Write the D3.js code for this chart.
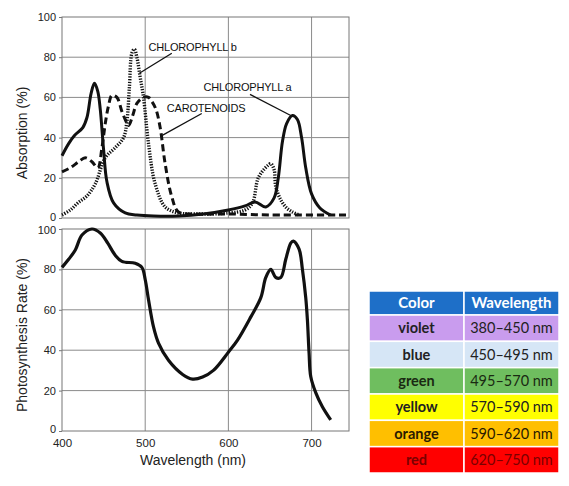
<!DOCTYPE html>
<html lang="en-US">
<head>
<meta charset="utf-8">
<style>
  body { margin: 0; background: #fff; }
  text { font-family: "Liberation Sans", Arial, sans-serif; }
  .tbl text { font-family: Lato, "Open Sans", sans-serif; }
</style>
</head>
<body>
<div id="chart"></div>
<script src="https://cdnjs.cloudflare.com/ajax/libs/d3/7.8.5/d3.min.js"></script>
<script>
var WIDTH = 569;
var HEIGHT = 486;

// absorption spectra (wavelength nm, absorption %)
var chlA = [[400,31],[408,37],[415,41],[425,45],[430,50],[435,62],[439,67],[443,63],[446,54],[450,34],[454,18],[462,7.5],[476,2.5],[490,1.5],[510,1],[540,1],[570,2],[600,4],[620,6],[632,8],[645,5.5],[655,10],[660,20],[665,38],[670,47],[677,51],[683,49],[688,40],[693,25],[700,12],[710,5],[723,1.5]];
var chlB = [[400,1.5],[410,4],[419,7.5],[430,11],[440,17],[452,30],[464,35],[474,40],[478,48],[481,65],[484,82],[487,84],[490,80],[494,70],[498,60],[504,37],[512,17],[524,5.5],[540,2.5],[560,2],[600,2.5],[620,4],[629,7.5],[636,20],[647,26],[651,27],[655,24],[657,15.5],[663,9],[670,5],[677,3],[685,1.5]];
var carot = [[400,23],[410,25],[420,28],[428,30],[436,28],[443,25],[448,35],[452,47],[456,56],[460,61],[466,60],[472,53],[476,49],[480,46],[485,51],[490,57],[498,60],[504,60],[508,58],[513,54],[518,45],[524,27],[532,10.5],[540,3],[560,2],[600,2],[650,1.5],[745,1.5]];
// action spectrum
var photo = [[400,81],[408,85],[416,89.6],[424,97],[436,100],[446,98],[455,93],[464,87],[472,84],[488,83],[496,81],[500,75],[504,65],[510,51.5],[516,43.5],[528,35],[545,28],[557,25.7],[569,26.7],[582,30],[600,39],[611,45],[627,56.5],[639,66],[645,76],[651,80],[657,76],[663,76],[669,85],[675,93],[678,94],[685,90],[689,80],[693,66],[695,55],[697,38.6],[699,27],[705,19],[713,12],[723,5.5]];

var xTicks = [400, 500, 600, 700];
var yTicks = [0, 20, 40, 60, 80, 100];

// curve labels: text anchor + leader line, in data units
var labels = [
  { text: "CHLOROPHYLL b", x: 504, y: 83, from: [532, 82], to: [493, 72] },
  { text: "CHLOROPHYLL a", x: 570, y: 63, from: [626, 61.5], to: [675, 51] },
  { text: "CAROTENOIDS", x: 526, y: 52.5, from: [568, 52], to: [520, 41] }
];

// wavelength table
var colorNames = ["violet", "blue", "green", "yellow", "orange", "red"];
var ranges = ["380\u2013450 nm", "450\u2013495 nm", "495\u2013570 nm", "570\u2013590 nm", "590\u2013620 nm", "620\u2013750 nm"];
var rowFills = ["#c99cee", "#d6e6f6", "#6fbe5f", "#ffff00", "#ffbf00", "#ff0000"];
var rowText = ["#222", "#222", "#1a2a12", "#222", "#2a1a00", "#7a0000"];

var svg = d3.select("#chart").append("svg").attr("width", WIDTH).attr("height", HEIGHT);
svg.append("rect").attr("width", WIDTH).attr("height", HEIGHT).attr("fill", "#fff");

var x = d3.scaleLinear().domain([400, 745]).range([62, 349]);
var yTop = d3.scaleLinear().domain([0, 100]).range([218, 17]);
var yBot = d3.scaleLinear().domain([0, 100]).range([431, 229]);

function panel(y, nudge) {
  var g = svg.append("g");
  // grid
  g.selectAll(".vg").data(xTicks.slice(1)).join("line")
    .attr("x1", d => x(d)).attr("x2", d => x(d))
    .attr("y1", y(0)).attr("y2", y(100))
    .attr("stroke", "#8a8a8a").attr("stroke-width", 1);
  g.selectAll(".hg").data(yTicks.slice(1, -1)).join("line")
    .attr("x1", x(400)).attr("x2", x(745))
    .attr("y1", d => y(d)).attr("y2", d => y(d))
    .attr("stroke", "#8a8a8a").attr("stroke-width", 1);
  g.append("rect")
    .attr("x", x(400)).attr("y", y(100))
    .attr("width", x(745) - x(400)).attr("height", y(0) - y(100))
    .attr("fill", "none").attr("stroke", "#777").attr("stroke-width", 1);
  var ax = g.append("g").attr("transform", "translate(" + x(400) + ",0)")
    .call(d3.axisLeft(y).tickValues(yTicks).tickSize(3).tickPadding(3));
  ax.select(".domain").remove();
  ax.selectAll("line").attr("stroke", "#777");
  ax.selectAll("text").attr("font-size", 11).attr("fill", "#222")
    .attr("transform", d => "translate(0," + (nudge[d] || 0) + ")")
    .style("font-family", "'Liberation Sans', Arial, sans-serif");
  return g;
}

var gTop = panel(yTop, { 0: -1 });
var gBot = panel(yBot, { 100: 1, 0: -2 });

var lineTop = d3.line().x(d => x(d[0])).y(d => yTop(d[1])).curve(d3.curveCatmullRom.alpha(0.5));
var lineBot = d3.line().x(d => x(d[0])).y(d => yBot(d[1])).curve(d3.curveCatmullRom.alpha(0.5));

gTop.append("path").attr("d", lineTop(chlB)).attr("fill", "none")
  .attr("stroke", "#111").attr("stroke-width", 3.4).attr("stroke-dasharray", "1.3 1.4");
gTop.append("path").attr("d", lineTop(carot)).attr("fill", "none")
  .attr("stroke", "#111").attr("stroke-width", 3).attr("stroke-dasharray", "7 4");
gTop.append("path").attr("d", lineTop(chlA)).attr("fill", "none")
  .attr("stroke", "#111").attr("stroke-width", 3).attr("stroke-linejoin", "round");

gTop.selectAll(".lead").data(labels).join("line")
  .attr("x1", d => x(d.from[0])).attr("y1", d => yTop(d.from[1]))
  .attr("x2", d => x(d.to[0])).attr("y2", d => yTop(d.to[1]))
  .attr("stroke", "#111").attr("stroke-width", 1.3);
gTop.selectAll(".lbl").data(labels).join("text")
  .attr("x", d => x(d.x)).attr("y", d => yTop(d.y))
  .attr("font-size", 11).attr("letter-spacing", -0.2).attr("fill", "#111")
  .text(d => d.text);

gBot.append("path").attr("d", lineBot(photo)).attr("fill", "none")
  .attr("stroke", "#111").attr("stroke-width", 3.2).attr("stroke-linejoin", "round");

var xa = gBot.append("g").attr("transform", "translate(0," + yBot(0) + ")")
  .call(d3.axisBottom(x).tickValues(xTicks).tickSize(0).tickPadding(8));
xa.select(".domain").remove();
xa.selectAll("text").attr("font-size", 11.5).attr("fill", "#222")
  .style("font-family", "'Liberation Sans', Arial, sans-serif");

svg.append("text").attr("transform", "translate(27,133) rotate(-90)")
  .attr("text-anchor", "middle").attr("font-size", 14).attr("fill", "#222")
  .text("Absorption (%)");
svg.append("text").attr("transform", "translate(27,335) rotate(-90)")
  .attr("text-anchor", "middle").attr("font-size", 14).attr("fill", "#222")
  .text("Photosynthesis Rate (%)");
svg.append("text").attr("x", 193).attr("y", 465)
  .attr("text-anchor", "middle").attr("font-size", 14).attr("fill", "#222")
  .text("Wavelength (nm)");

// table
var tbl = svg.append("g").attr("class", "tbl");
var col = d3.scaleBand().domain(["Color", "Wavelength"]).range([369, 559]).paddingInner(0);
var row = d3.scaleBand().domain(d3.range(colorNames.length)).range([315, 473]);
var headH = 24;

tbl.selectAll(".hd").data(col.domain()).join("rect")
  .attr("x", d => col(d)).attr("y", 315 - headH)
  .attr("width", col.bandwidth()).attr("height", headH)
  .attr("fill", "#1e6fc8").attr("stroke", "#fff").attr("stroke-width", 1.5);
tbl.selectAll(".hdt").data(col.domain()).join("text")
  .attr("x", d => col(d) + col.bandwidth() / 2).attr("y", 315 - headH / 2 + 5)
  .attr("text-anchor", "middle").attr("font-size", 15).attr("font-weight", "bold")
  .attr("fill", "#fff").text(d => d);

colorNames.forEach(function (name, i) {
  var cells = [name, ranges[i]];
  tbl.selectAll(".r" + i).data(col.domain()).join("rect")
    .attr("x", d => col(d)).attr("y", row(i))
    .attr("width", col.bandwidth()).attr("height", row.bandwidth())
    .attr("fill", rowFills[i]).attr("stroke", "#fff").attr("stroke-width", 1.5);
  tbl.selectAll(".t" + i).data(col.domain()).join("text")
    .attr("x", d => col(d) + col.bandwidth() / 2).attr("y", row(i) + row.bandwidth() / 2 + 5)
    .attr("text-anchor", "middle").attr("font-size", 14.5)
    .attr("font-weight", (d, j) => j === 0 ? "bold" : "normal")
    .attr("fill", rowText[i])
    .text((d, j) => cells[j]);
});
</script>
</body>
</html>
